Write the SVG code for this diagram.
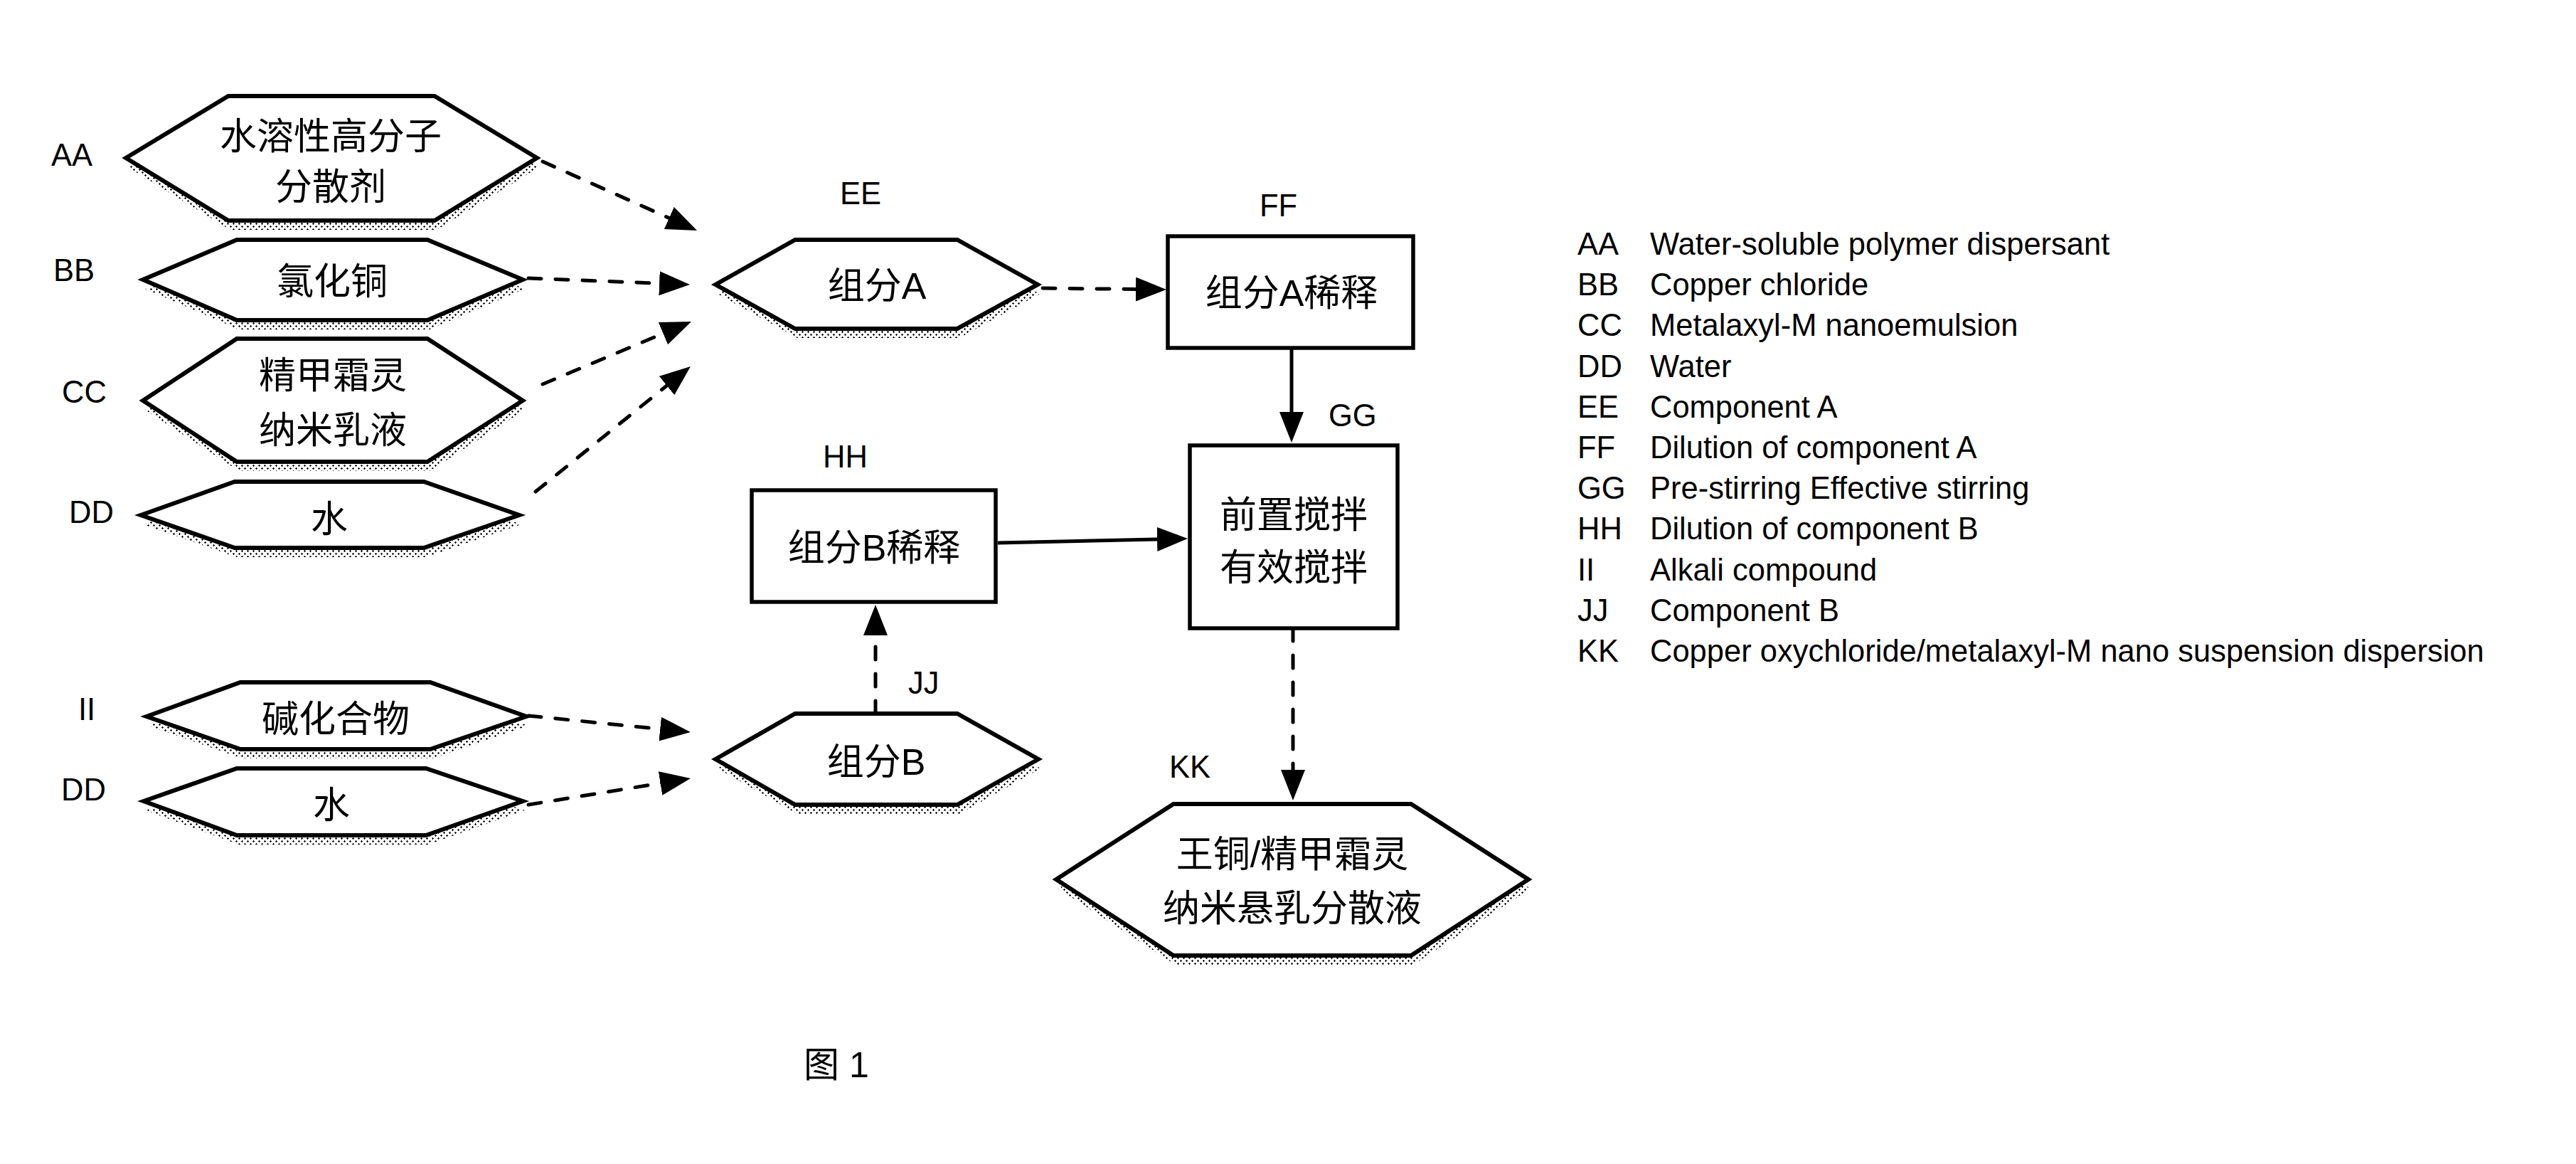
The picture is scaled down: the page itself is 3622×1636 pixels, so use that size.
<svg xmlns="http://www.w3.org/2000/svg" width="3622" height="1636" viewBox="0 0 3622 1636">
<style>
.hex{fill:#fff;stroke:#000;stroke-width:6;stroke-linejoin:miter}
.box{fill:#fff;stroke:#000;stroke-width:5.5}
.shadow{fill:url(#stip);stroke:none}
.cn{font-family:"Liberation Sans","Noto Sans CJK SC",sans-serif;font-size:52px;fill:#000;text-anchor:middle}
.lb{font-family:"Liberation Sans",Arial,sans-serif;font-size:43.5px;fill:#000}
.dash{fill:none;stroke:#000;stroke-width:5;stroke-dasharray:18 20;stroke-linecap:round;marker-end:url(#arr)}
.solid{fill:none;stroke:#000;stroke-width:5;marker-end:url(#arr)}
</style>
<defs>
<pattern id="stip" width="8" height="8" patternUnits="userSpaceOnUse">
<path d="M1,0h1v3h-1z M0,1h3v1h-3z M5,4h1v3h-1z M4,5h3v1h-3z" fill="#000"/>
</pattern>
<marker id="arr" markerUnits="userSpaceOnUse" markerWidth="44" markerHeight="36" refX="33" refY="17" orient="auto" viewBox="0 0 44 36">
<path d="M0,0 L43,17 L0,34 Z" fill="#000"/>
</marker>
</defs>
<rect width="3622" height="1636" fill="#fff"/>

<g id="connectors">
<line class="dash" x1="763" y1="227" x2="970.9" y2="319.9"/>
<line class="dash" x1="743" y1="391" x2="960" y2="399.6"/>
<line class="dash" x1="763" y1="540" x2="962.8" y2="455.9"/>
<line class="dash" x1="753" y1="691" x2="963.2" y2="521.3"/>
<line class="dash" x1="743" y1="1006" x2="961" y2="1028"/>
<line class="dash" x1="743" y1="1131" x2="961.1" y2="1095.6"/>
<line class="dash" x1="1466" y1="405" x2="1630" y2="406.9"/>
<line class="solid" x1="1816" y1="489" x2="1816" y2="612"/>
<line class="solid" x1="1403" y1="763" x2="1660" y2="757.2"/>
<line class="dash" x1="1231" y1="1003" x2="1231" y2="860"/>
<line class="dash" x1="1818" y1="883" x2="1818" y2="1115"/>
</g>

<g id="node-AA">
<polygon class="shadow" transform="translate(3,13)" points="177,222 321,135 611,135 755,222 611,310 321,310"/>
<polygon class="hex" points="177,222 321,135 611,135 755,222 611,310 321,310"/>
<text class="cn" x="465" y="210">水溶性高分子</text>
<text class="cn" x="465" y="281">分散剂</text>
</g>
<g id="node-BB">
<polygon class="shadow" transform="translate(3,13)" points="201,393 333,337 601,337 735,393 601,450 333,450"/>
<polygon class="hex" points="201,393 333,337 601,337 735,393 601,450 333,450"/>
<text class="cn" x="467" y="414">氯化铜</text>
</g>
<g id="node-CC">
<polygon class="shadow" transform="translate(3,13)" points="201,563 333,476 601,476 735,563 601,649 333,649"/>
<polygon class="hex" points="201,563 333,476 601,476 735,563 601,649 333,649"/>
<text class="cn" x="468" y="546">精甲霜灵</text>
<text class="cn" x="468" y="623">纳米乳液</text>
</g>
<g id="node-DD">
<polygon class="shadow" transform="translate(3,13)" points="198,724 330,677 596,677 730,724 596,770 330,770"/>
<polygon class="hex" points="198,724 330,677 596,677 730,724 596,770 330,770"/>
<text class="cn" x="463" y="748">水</text>
</g>
<g id="node-II">
<polygon class="shadow" transform="translate(3,13)" points="206,1007 338,959 605,959 740,1007 605,1053 338,1053"/>
<polygon class="hex" points="206,1007 338,959 605,959 740,1007 605,1053 338,1053"/>
<text class="cn" x="472" y="1029">碱化合物</text>
</g>
<g id="node-DD2">
<polygon class="shadow" transform="translate(3,13)" points="202,1126 333,1080 599,1080 735,1126 599,1174 333,1174"/>
<polygon class="hex" points="202,1126 333,1080 599,1080 735,1126 599,1174 333,1174"/>
<text class="cn" x="466" y="1150">水</text>
</g>
<g id="node-EE">
<polygon class="shadow" transform="translate(3,13)" points="1006,400 1118,337 1346,337 1459,400 1346,462 1118,462"/>
<polygon class="hex" points="1006,400 1118,337 1346,337 1459,400 1346,462 1118,462"/>
<text class="cn" x="1233" y="420">组分A</text>
</g>
<g id="node-FF">
<rect class="box" x="1642" y="332" width="345" height="157"/>
<text class="cn" x="1816" y="430">组分A稀释</text>
</g>
<g id="node-GG">
<rect class="box" x="1673" y="626" width="292" height="257"/>
<text class="cn" x="1819" y="742">前置搅拌</text>
<text class="cn" x="1819" y="816">有效搅拌</text>
</g>
<g id="node-HH">
<rect class="box" x="1057" y="689" width="343" height="157"/>
<text class="cn" x="1229" y="788">组分B稀释</text>
</g>
<g id="node-JJ">
<polygon class="shadow" transform="translate(3,13)" points="1006,1067 1118,1003 1346,1003 1460,1067 1346,1131 1118,1131"/>
<polygon class="hex" points="1006,1067 1118,1003 1346,1003 1460,1067 1346,1131 1118,1131"/>
<text class="cn" x="1232" y="1089">组分B</text>
</g>
<g id="node-KK">
<polygon class="shadow" transform="translate(3,13)" points="1485,1236 1650,1130 1984,1130 2149,1236 1984,1343 1650,1343"/>
<polygon class="hex" points="1485,1236 1650,1130 1984,1130 2149,1236 1984,1343 1650,1343"/>
<text class="cn" x="1817" y="1219">王铜/精甲霜灵</text>
<text class="cn" x="1817" y="1295">纳米悬乳分散液</text>
</g>

<g id="labels">
<text class="lb" x="72" y="233">AA</text>
<text class="lb" x="75" y="395">BB</text>
<text class="lb" x="87" y="566">CC</text>
<text class="lb" x="97" y="735">DD</text>
<text class="lb" x="110" y="1012">II</text>
<text class="lb" x="86" y="1125">DD</text>
<text class="lb" x="1181" y="287">EE</text>
<text class="lb" x="1771" y="304">FF</text>
<text class="lb" x="1868" y="599">GG</text>
<text class="lb" x="1157" y="657">HH</text>
<text class="lb" x="1277" y="975">JJ</text>
<text class="lb" x="1644" y="1093">KK</text>
</g>

<g id="legend">
<text class="lb" x="2218" y="358">AA</text><text class="lb" x="2320" y="358">Water-soluble polymer dispersant</text>
<text class="lb" x="2218" y="415">BB</text><text class="lb" x="2320" y="415">Copper chloride</text>
<text class="lb" x="2218" y="472">CC</text><text class="lb" x="2320" y="472">Metalaxyl-M nanoemulsion</text>
<text class="lb" x="2218" y="530">DD</text><text class="lb" x="2320" y="530">Water</text>
<text class="lb" x="2218" y="587">EE</text><text class="lb" x="2320" y="587">Component A</text>
<text class="lb" x="2218" y="644">FF</text><text class="lb" x="2320" y="644">Dilution of component A</text>
<text class="lb" x="2218" y="701">GG</text><text class="lb" x="2320" y="701">Pre-stirring Effective stirring</text>
<text class="lb" x="2218" y="758">HH</text><text class="lb" x="2320" y="758">Dilution of component B</text>
<text class="lb" x="2218" y="816">II</text><text class="lb" x="2320" y="816">Alkali compound</text>
<text class="lb" x="2218" y="873">JJ</text><text class="lb" x="2320" y="873">Component B</text>
<text class="lb" x="2218" y="930">KK</text><text class="lb" x="2320" y="930">Copper oxychloride/metalaxyl-M nano suspension dispersion</text>
</g>

<text x="1130" y="1514" font-family="Liberation Sans,Noto Sans CJK SC,sans-serif" font-size="50" fill="#000">图 1</text>
</svg>
